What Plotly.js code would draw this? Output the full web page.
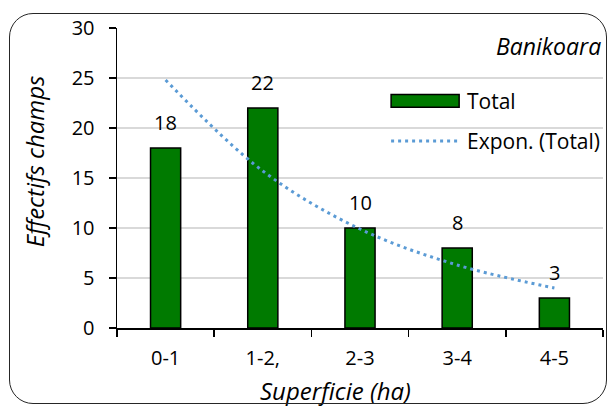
<!DOCTYPE html>
<html>
<head>
<meta charset="utf-8">
<script src="https://cdn.plot.ly/plotly-3.0.1.min.js"></script>
<style>
  html, body { margin: 0; padding: 0; background: #fff; }
  #wrap { position: relative; width: 609px; height: 406px; overflow: hidden; }
  #chart { position: absolute; left: 0; top: 0; width: 609px; height: 406px; }
  #frame { position: absolute; left: 9px; top: 13px; width: 596px; height: 389px;
           border: 1.5px solid #262626; border-radius: 24px; pointer-events: none; }
</style>
</head>
<body>
<div id="wrap">
  <div id="chart"></div>
  <div id="frame"></div>
</div>
<script>
const categories = ["0-1", "1-2,", "2-3", "3-4", "4-5"];
const totals = [18, 22, 10, 8, 3];
// exponential trendline values
const trendValues = [24.8, 15.7, 9.9, 6.3, 4.0];
const seriesNames = ["Total", "Expon. (Total)"];
const siteLabel = "Banikoara";
const xTitle = "Superficie (ha)";
const yTitle = "Effectifs champs";

const font = "'Open Sans', sans-serif";
const barColor = "#007A00";
const trendColor = "#5B9BD5";
const trendDash = "3px,4px";

const barTrace = {
  type: "bar",
  name: seriesNames[0],
  x: categories,
  y: totals,
  width: 0.31,
  marker: { color: barColor, line: { color: "#000000", width: 1.5 } },
  showlegend: false
};

const trendTrace = {
  type: "scatter",
  mode: "lines",
  name: seriesNames[1],
  x: categories,
  y: trendValues,
  line: { color: trendColor, width: 3, dash: trendDash, shape: "spline" },
  showlegend: false
};

const valueLabels = categories.map((c, i) => ({
  x: c, y: totals[i], xref: "x", yref: "y",
  text: String(totals[i]), showarrow: false,
  yanchor: "bottom", yshift: 10,
  font: { family: font, size: 20, color: "#000" }
}));

// legend drawn in paper coordinates
const legX0 = 0.564, legX1 = 0.704, legTextX = 0.716;
const legY = [0.757, 0.623];
const legendShapes = [
  { type: "rect", xref: "paper", yref: "paper",
    x0: legX0, x1: legX1, y0: legY[0] - 0.021, y1: legY[0] + 0.021,
    fillcolor: barColor, line: { color: "#000", width: 1.5 } },
  { type: "line", xref: "paper", yref: "paper",
    x0: legX0, x1: legX1, y0: legY[1], y1: legY[1],
    line: { color: trendColor, width: 3, dash: trendDash } }
];
const legendTexts = seriesNames.map((n, i) => ({
  xref: "paper", yref: "paper", x: legTextX, y: legY[i],
  xanchor: "left", yanchor: "middle", text: n, showarrow: false,
  font: { family: font, size: 21, color: "#000" }
}));

const titleAnnotations = [
  { xref: "paper", yref: "paper", x: 1, y: 1,
    xanchor: "right", yanchor: "top", yshift: 0,
    text: "<i>" + siteLabel + "</i>", showarrow: false,
    font: { family: font, size: 23, color: "#000" } },
  { xref: "paper", yref: "paper", x: 0.449, y: -0.207,
    xanchor: "center", yanchor: "middle",
    text: "<i>" + xTitle + "</i>", showarrow: false,
    font: { family: font, size: 24, color: "#000" } },
  { xref: "paper", yref: "paper", x: -0.168, y: 0.557,
    xanchor: "center", yanchor: "middle", textangle: -90,
    text: "<i>" + yTitle + "</i>", showarrow: false,
    font: { family: font, size: 24, color: "#000" } }
];

const layout = {
  width: 609, height: 406,
  margin: { l: 117, r: 6, t: 28, b: 78 },
  paper_bgcolor: "#ffffff",
  plot_bgcolor: "#ffffff",
  font: { family: font, size: 20, color: "#000" },
  showlegend: false,
  xaxis: {
    type: "category",
    range: [-0.5, 4.5],
    showline: true, linecolor: "#000", linewidth: 1.5,
    ticks: "outside", tickson: "boundaries", ticklen: 7, tickcolor: "#000", tickwidth: 1.5,
    ticklabelstandoff: 11,
    showgrid: false,
    tickfont: { family: font, size: 20 }
  },
  yaxis: {
    range: [0, 30], dtick: 5,
    showline: true, linecolor: "#000", linewidth: 1.5,
    ticks: "outside", ticklen: 7, tickcolor: "#000", tickwidth: 1.5,
    ticklabelstandoff: 10,
    gridcolor: "#d9d9d9", gridwidth: 1.5,
    zeroline: false,
    tickfont: { family: font, size: 20 }
  },
  shapes: legendShapes,
  annotations: valueLabels.concat(legendTexts, titleAnnotations)
};

Plotly.newPlot("chart", [barTrace, trendTrace], layout, { displayModeBar: false, staticPlot: true });
</script>
</body>
</html>
